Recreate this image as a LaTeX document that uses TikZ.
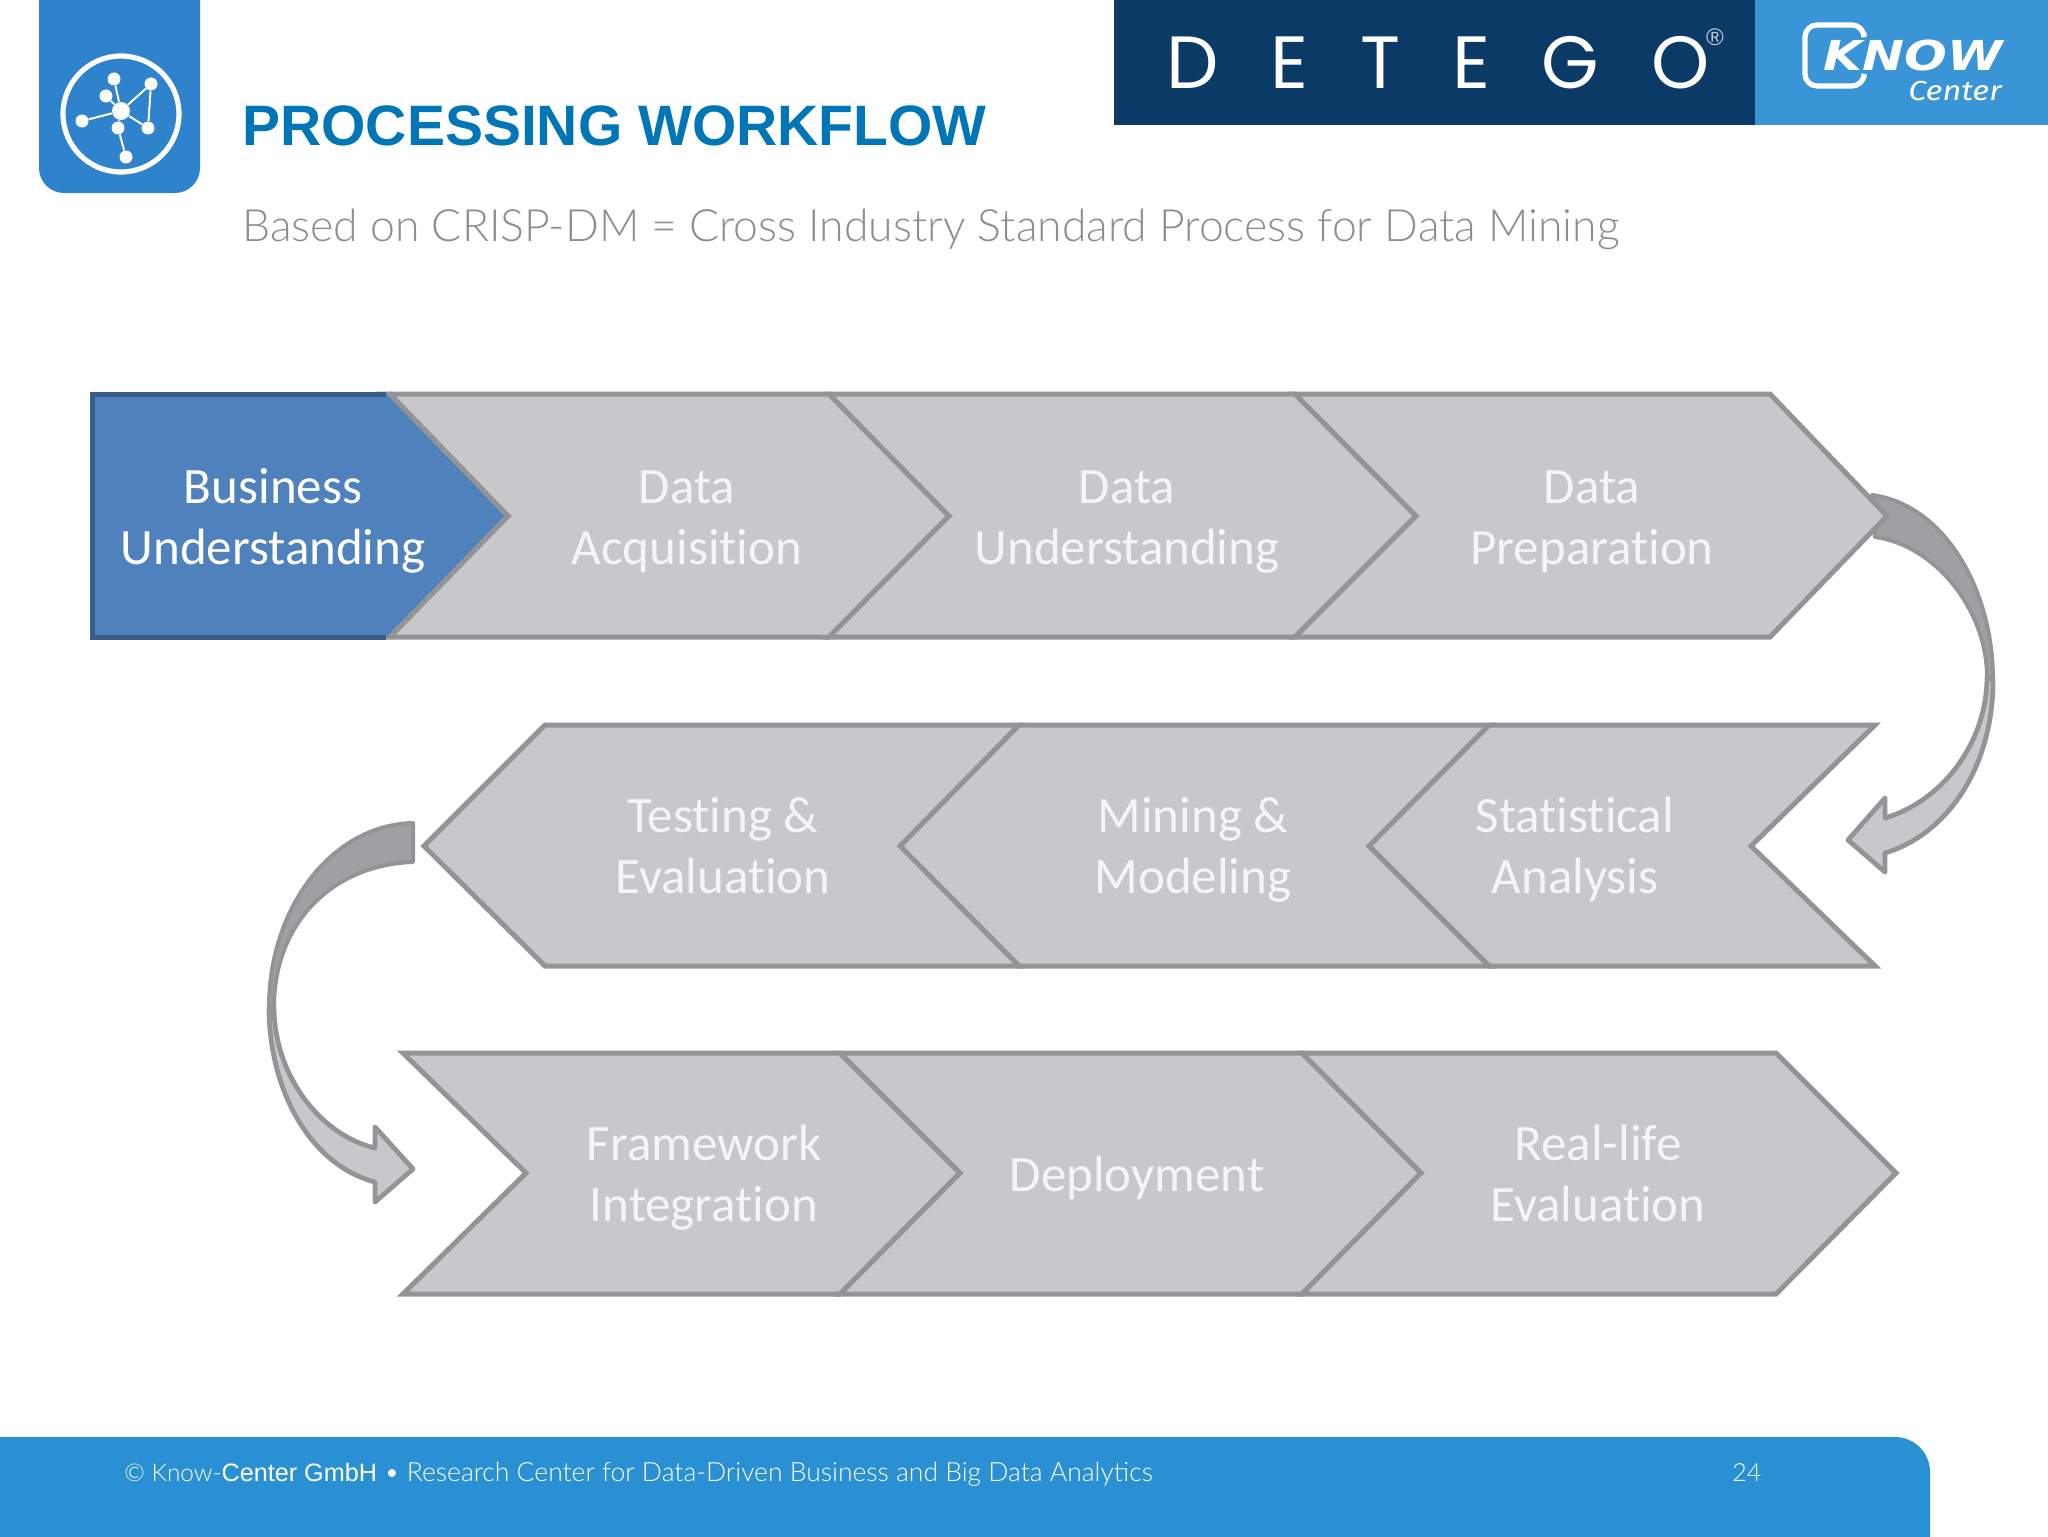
\documentclass[tikz,border=0pt]{standalone}
\usepackage{graphicx}
\usepackage{fontspec}
\setmainfont[Ligatures=NoCommon]{Carlito}
\newfontfamily\arialf{Liberation Sans}
\newfontfamily\lightf{Lato Light}
\newfontfamily\detegof[LetterSpace=70]{Poppins}
\newfontfamily\knowf{Fira Sans}
\newfontfamily\knowbf{DejaVu Sans}
\definecolor{chevfill}{HTML}{C8C8CB}
\definecolor{chevline}{HTML}{949496}
\definecolor{darkarrow}{HTML}{A0A0A3}
\definecolor{bluefill}{HTML}{4F81BD}
\definecolor{blueline}{HTML}{385D8A}
\definecolor{tilecol}{HTML}{2F82CC}
\definecolor{titlecol}{HTML}{0076B6}
\definecolor{subcol}{HTML}{8E8E92}
\definecolor{detegocol}{HTML}{0C3A66}
\definecolor{knowcol}{HTML}{3A95D6}
\definecolor{footcol}{HTML}{2A90D4}
\definecolor{labelcol}{HTML}{F3F5F7}
\tikzset{
  chev/.style={draw=chevline,fill=chevfill,line width=2.5pt,line join=miter},
  backribbon/.style={draw=chevline,fill=darkarrow,line width=2pt,line join=round},
  frontribbon/.style={draw=chevline,fill=chevfill,line width=2.4pt,line join=round},
  steplabel/.style={text=labelcol,font=\fontsize{25.5}{30.5}\selectfont,align=center,inner sep=0pt},
  dot/.style={circle,fill=white,inner sep=0pt},
  link/.style={draw=white,line width=1pt},
}
\begin{document}
\begin{tikzpicture}[x=0.5pt,y=-0.5pt]
\useasboundingbox (0,0) rectangle (2048,1536);
% logo tile
\fill[tilecol] (39,-10) -- (200,-10) -- (200,168) arc[start angle=0,end angle=90,radius=25] -- (64,193) arc[start angle=90,end angle=180,radius=25] -- cycle;
\draw[white,line width=2.6pt] (121,114) circle[radius=58];
\node[dot,minimum size=9pt] (hub) at (121,111) {};
\node[dot,minimum size=6.5pt] (n1) at (114,79) {};
\node[dot,minimum size=6.5pt] (n2) at (106,96) {};
\node[dot,minimum size=6.5pt] (n3) at (151,84) {};
\node[dot,minimum size=6.5pt] (n4) at (82,121) {};
\node[dot,minimum size=6.5pt] (n5) at (118,128) {};
\node[dot,minimum size=6.5pt] (n6) at (148,128) {};
\node[dot,minimum size=6.5pt] (n7) at (126,157) {};
\draw[link] (hub)--(n1) (hub)--(n2) (hub)--(n3) (hub)--(n4) (hub)--(n5) (hub)--(n6) (n3)--(n6) (n5)--(n7);
% title
\node[anchor=base west,inner sep=0pt,text=titlecol,font=\arialf\bfseries\fontsize{28.5}{30}\selectfont] (title) at (242,145) {PROCESSING WORKFLOW};
\node[anchor=base west,inner sep=0pt,text=subcol,font=\lightf\fontsize{22.27}{26}\selectfont] (sub) at (242,241) {Based on CRISP-DM = Cross Industry Standard Process for Data Mining};
% logos
\fill[detegocol] (1114,0) rectangle (1755,125);
\fill[knowcol] (1755,0) rectangle (2048,125);
\node[anchor=base west,inner sep=0pt,text=white,font=\detegof\fontsize{37}{40}\selectfont] (detego) at (1166,89) {DETEGO};
\node[inner sep=0pt,text=white!75!detegocol,font=\arialf\fontsize{12}{13}\selectfont] (reg) at (1715,37) {®};
\draw[white,line width=2.6pt,rounded corners=6pt] (1864,33) -- (1864,25) -- (1805,25) -- (1805,86) -- (1864,86) -- (1864,78);
\node[anchor=base west,inner sep=0pt,text=white,font=\knowbf\bfseries\itshape\fontsize{20.6}{22}\selectfont] (know) at (1823,71) {\scalebox{1.22}[1]{KNOW}};
\node[anchor=base east,inner sep=0pt,text=white,font=\knowf\itshape\fontsize{13.8}{15}\selectfont] (center) at (2002,101) {\scalebox{1.18}[1]{Center}};
% curved arrow right (behind first row)
\draw[backribbon] (1872,495) .. controls (1945,505) and (1993,590) .. (1993,680)
  -- (1987,677) .. controls (1987,610) and (1935,545) .. (1875,537) -- cycle;
\draw[frontribbon] (1987,677) .. controls (1987,740) and (1945,800) .. (1885,818)
  -- (1885,798) -- (1848,840) -- (1885,872) -- (1885,853)
  .. controls (1945,835) and (1993,770) .. (1993,680) -- cycle;
% curved arrow left
\draw[backribbon] (413,823) .. controls (330,825) and (269,910) .. (269,1007)
  -- (274,1007) .. controls (274,925) and (330,865) .. (413,862) -- cycle;
\draw[frontribbon] (274,1007) .. controls (274,1075) and (320,1135) .. (375,1148)
  -- (375,1127) -- (413,1169) -- (375,1202) -- (375,1182)
  .. controls (310,1165) and (269,1090) .. (269,1007) -- cycle;
% row 1
\draw[chev] (383,394) -- (829,394) -- (949,516) -- (829,637) -- (383,637) -- (508,516) -- cycle;
\draw[chev] (829,394) -- (1295,394) -- (1416,516) -- (1295,637) -- (829,637) -- (949,516) -- cycle;
\draw[chev] (1295,394) -- (1770,394) -- (1887,516) -- (1770,637) -- (1295,637) -- (1416,516) -- cycle;
\fill[bluefill] (92,394) -- (389,394) -- (508,516) -- (389,637) -- (92,637) -- cycle;
\draw[blueline,line width=2.5pt,line join=miter] (386,394) -- (92,394) -- (92,637) -- (386,637);
\draw[chevline,line width=2.5pt,line join=miter] (389,393) -- (508,516) -- (389,638);
% row 2
\draw[chev] (1489,725) -- (1875,725) -- (1751,846) -- (1875,966) -- (1489,966) -- (1369,846) -- cycle;
\draw[chev] (1019,725) -- (1489,725) -- (1369,846) -- (1489,966) -- (1019,966) -- (900,846) -- cycle;
\draw[chev] (545,725) -- (1019,725) -- (900,846) -- (1019,966) -- (545,966) -- (424,846) -- cycle;
% row 3
\draw[chev] (403,1053) -- (840,1053) -- (960,1173) -- (840,1294) -- (403,1294) -- (526,1173) -- cycle;
\draw[chev] (840,1053) -- (1302,1053) -- (1421,1173) -- (1302,1294) -- (840,1294) -- (960,1173) -- cycle;
\draw[chev] (1302,1053) -- (1776,1053) -- (1896,1173) -- (1776,1294) -- (1302,1294) -- (1421,1173) -- cycle;
% labels
\node[steplabel,text=white] (s1) at (273,522) {\strut Business\\\strut Understanding};
\node[steplabel] (s2) at (687,522) {\strut Data\\\strut Acquisition};
\node[steplabel] (s3) at (1127,522) {\strut Data\\\strut Understanding};
\node[steplabel] (s4) at (1592,522) {\strut Data\\\strut Preparation};
\node[steplabel] (s5) at (1575,851) {\strut Statistical\\\strut Analysis};
\node[steplabel] (s6) at (1193,851) {\strut Mining \&\\\strut Modeling};
\node[steplabel] (s7) at (723,851) {\strut Testing \&\\\strut Evaluation};
\node[steplabel] (s8) at (704,1179) {\strut Framework\\\strut Integration};
\node[steplabel] (s9) at (1137,1179) {\strut Deployment};
\node[steplabel] (s10) at (1598,1179) {\strut Real-life\\\strut Evaluation};
% footer
\fill[footcol] (0,1437) -- (1895,1437) arc[start angle=-90,end angle=0,radius=35] -- (1930,1546) -- (0,1546) -- cycle;
\node[anchor=base west,inner sep=0pt,text=white,font=\lightf\fontsize{13.25}{16}\selectfont] (foot) at (124,1481) {{\fontsize{12.2}{16}\selectfont © Know-}{\arialf\fontsize{12.6}{16}\selectfont Center GmbH} • Research Center for Data-Driven Business and Big Data Analytics};
\node[anchor=base west,inner sep=0pt,text=white,font=\lightf\fontsize{12.5}{16}\selectfont] (page) at (1732,1481) {24};
\end{tikzpicture}
\end{document}
